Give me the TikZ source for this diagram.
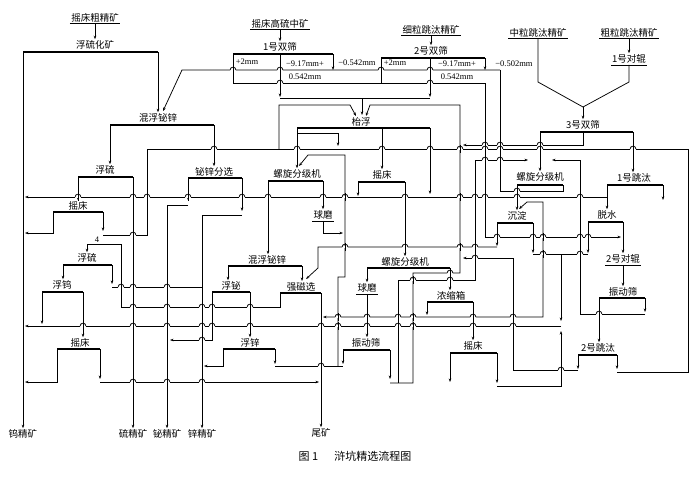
\documentclass[tikz,border=0pt]{standalone}
\usepackage{fontspec}
\setmainfont{Noto Sans CJK SC}
\newfontfamily\numfont{Liberation Serif}
\usetikzlibrary{arrows.meta}

\begin{document}
\begin{tikzpicture}[x=1pt, y=-1pt, line width=0.75pt,
    every node/.style={inner sep=1pt, font=\fontsize{9.5}{10}\selectfont},
    size/.style={inner sep=0.5pt, font=\numfont\fontsize{8.5}{9}\selectfont},
    bar/.style={line width=1.4pt},
    arr/.style={-{Stealth[length=3.5pt,width=2.6pt]}},
    arrs/.style={{Stealth[length=3.5pt,width=2.6pt]}-{Stealth[length=3.5pt,width=2.6pt]}},
    mill/.style={double, double distance=1.1pt, line width=0.55pt},
  ]
  \useasboundingbox (0,0) rectangle (700,479);

  % feeds
  \node (zcj) at (95,18) {摇床粗精矿};
  \node (gzl) at (280,24) {摇床高硫中矿};
  \node (xltt) at (431,30) {细粒跳汰精矿};
  \node (zltt) at (538,33) {中粒跳汰精矿};
  \node (cltt) at (629,33) {粗粒跳汰精矿};

  % operations
  \node (fhk) at (95,45) {浮硫化矿};
  \node (sh1) at (280,47) {1号双筛};
  \node (sh2) at (431,51) {2号双筛};
  \node (sh3) at (583,125) {3号双筛};
  \node (hf1) at (158,118) {混浮铋锌};
  \node (tf) at (361,122) {枱浮};
  \node (fl1) at (105,170) {浮硫};
  \node (fx) at (214,172) {铋锌分选};
  \node (lx1) at (297,174) {螺旋分级机};
  \node (yc2) at (382,175) {摇床};
  \node (lx3) at (540,177) {螺旋分级机};
  \node (tt1) at (634,178) {1号跳汰};
  \node (yc1) at (78,206) {摇床};
  \node (cd) at (517,216) {沉淀};
  \node (ts) at (607,215) {脱水};
  \node (fl2) at (87,258) {浮硫};
  \node (hf2) at (267,260) {混浮铋锌};
  \node (lx2) at (405,262) {螺旋分级机};
  \node (fw) at (62,285) {浮钨};
  \node (fb) at (231,286) {浮铋};
  \node (qc) at (301,287) {强磁选};
  \node (nsx) at (451,296) {浓缩箱};
  \node (zds2) at (623,292) {振动筛};
  \node (yc4) at (80,343) {摇床};
  \node (fz) at (250,343) {浮锌};
  \node (zds1) at (366,343) {振动筛};
  \node (yc3) at (473,346) {摇床};
  \node (tt2) at (598,348) {2号跳汰};

  % mills
  \node (dg1) at (629,59) {1号对辊};
  \node (qm1) at (323,215) {球磨};
  \node (dg2) at (623,259) {2号对辊};
  \node (qm2) at (367,288) {球磨};

  % products
  \node (wjk) at (23,434) {钨精矿};
  \node (ljk) at (133,434) {硫精矿};
  \node (bjk) at (167,434) {铋精矿};
  \node (xjk) at (202,434) {锌精矿};
  \node (wk) at (321,433) {尾矿};

  % screen sizes
  \node[size] (s1a) at (247,62) {+2mm};
  \node[size] (s1b) at (305,64) {−9.17mm+};
  \node[size] (s1c) at (305,77) {0.542mm};
  \node[size] (s1d) at (357,63) {−0.542mm};
  \node[size] (s2a) at (395,63) {+2mm};
  \node[size] (s2b) at (457,64) {−9.17mm+};
  \node[size] (s2c) at (457,77) {0.542mm};
  \node[size] (s2d) at (514,64) {−0.502mm};
  \node[size] (n4) at (97,240) {4};
  \node[font=\fontsize{11}{12}\selectfont] (cap) at (355,456) {图 1\hspace{16pt}浒坑精选流程图};

  % underlines and bars
  \draw (zcj.south west) -- (zcj.south east);
  \draw (gzl.south west) -- (gzl.south east);
  \draw (xltt.south west) -- (xltt.south east);
  \draw (zltt.south west) -- (zltt.south east);
  \draw (cltt.south west) -- (cltt.south east);
  \draw[mill] (dg1.south west) -- (dg1.south east);
  \draw[mill] (qm1.south west) -- (qm1.south east);
  \draw[mill] (dg2.south west) -- (dg2.south east);
  \draw[mill] (qm2.south west) -- (qm2.south east);

  \draw[bar] (23,52) coordinate (fhk-l) -- (158,52) coordinate (fhk-r);
  \draw[bar] (233,54) coordinate (sh1-l) -- (333,54) coordinate (sh1-r);
  \draw[bar] (381,58) coordinate (sh2-l) -- (485,58) coordinate (sh2-r);
  \draw[bar] (540,132) coordinate (sh3-l) -- (633,132) coordinate (sh3-r);
  \draw[bar] (110,125) coordinate (hf1-l) -- (214,125) coordinate (hf1-r);
  \draw[bar] (297,128) coordinate (tf-l) -- (430,128) coordinate (tf-r);
  \draw[bar] (78,177) coordinate (fl1-l) -- (133,177) coordinate (fl1-r);
  \draw[bar] (188,178) coordinate (fx-l) -- (242,178) coordinate (fx-r);
  \draw[bar] (268,181) coordinate (lx1-l) -- (323,181) coordinate (lx1-r);
  \draw[bar] (358,182) coordinate (yc2-l) -- (405,182) coordinate (yc2-r);
  \draw[bar] (517,185) coordinate (lx3-l) -- (563,185) coordinate (lx3-r);
  \draw[bar] (607,185) coordinate (tt1-l) -- (663,185) coordinate (tt1-r);
  \draw[bar] (53,212) coordinate (yc1-l) -- (103,212) coordinate (yc1-r);
  \draw[bar] (497,223) coordinate (cd-l) -- (533,223) coordinate (cd-r);
  \draw[bar] (588,222) coordinate (ts-l) -- (623,222) coordinate (ts-r);
  \draw[bar] (63,265) coordinate (fl2-l) -- (112,265) coordinate (fl2-r);
  \draw[bar] (228,266) coordinate (hf2-l) -- (302,266) coordinate (hf2-r);
  \draw[bar] (367,268) coordinate (lx2-l) -- (450,268) coordinate (lx2-r);
  \draw[bar] (42,292) coordinate (fw-l) -- (83,292) coordinate (fw-r);
  \draw[bar] (212,292) coordinate (fb-l) -- (250,292) coordinate (fb-r);
  \draw[bar] (280,293) coordinate (qc-l) -- (321,293) coordinate (qc-r);
  \draw[bar] (427,302) coordinate (nsx-l) -- (473,302) coordinate (nsx-r);
  \draw[bar] (599,298) coordinate (zds2-l) -- (645,298) coordinate (zds2-r);
  \draw[bar] (57,349) coordinate (yc4-l) -- (100,349) coordinate (yc4-r);
  \draw[bar] (223,349) coordinate (fz-l) -- (275,349) coordinate (fz-r);
  \draw[bar] (343,350) coordinate (zds1-l) -- (390,350) coordinate (zds1-r);
  \draw[bar] (450,353) coordinate (yc3-l) -- (497,353) coordinate (yc3-r);
  \draw[bar] (578,355) coordinate (tt2-l) -- (617,355) coordinate (tt2-r);

  % top: feeds and double screens
  \draw[arr] (zcj.south) -- (fhk.north);
  \draw[arr] (fhk-l) -- (wjk.north);
  \draw[arr] (fhk-r) -- (hf1.north -| fhk-r);
  \draw[arr] (gzl.south) -- (sh1.north);
  \draw[arr] (xltt.south) -- (sh2.north);
  \draw[arr] (sh1-l) -- (233,83) -- (485,83) -- (485,237) -- (621,237);
  \draw (sh2-l) -- (381,83);
  \draw[arr] (280,54) -- (280,97);
  \draw[arr] (430,58) -- (430,97);
  \draw (280,98) -- (430,98);
  \draw[arr] (362,98) -- (362,115);
  \draw[arr] (sh1-r) -- (333,70);
  \draw[arr] (sh2-r) -- (485,70);
  \draw[arr] (500,70) -- (182,70) -- (163,111);
  \draw (500,70) -- (500,191) -- (563,191) -- (lx3-r);
  \draw (zltt.south) -- (538,82) -- (583,107);
  \draw (dg1.south) -- (629,82) -- (583,107);
  \draw[arr] (583,107) -- (sh3.north);
  \draw[arr] (cltt.south) -- (dg1.north);
  \draw[arr] (sh3-l) -- (lx3.north);
  \draw[arr] (sh3-r) -- (tt1.north -| sh3-r);
  \draw[arr] (583,132) -- (583,145) -- (463,145);

  % table flotation
  \draw[arr] (tf-l) -- (lx1.north);
  \draw[arr] (297,133) -- (338,133) -- (338,146);
  \draw[arr] (382,128) -- (yc2.north);
  \draw[arr] (tf-r) -- (430,194);
  \draw (103,235) -- (147,235) -- (147,149) -- (688,149) -- (688,372) -- (617,372);
  \draw[arr] (279,149) -- (279,105) -- (350,105) -- (356,116);
  \draw[arr] (390,383) -- (413,383) -- (413,273) -- (460,273) -- (460,105) -- (370,105) -- (366,116);

  % left part
  \draw[arr] (hf1-l) -- (fl1.north -| hf1-l);
  \draw[arr] (hf1-r) -- (fx.north -| hf1-r);
  \draw[arr] (fl1-l) -- (yc1.north -| fl1-l);
  \draw[arr] (fl1-r) -- (ljk.north);
  \draw[arr] (yc1-l) -- (53,233) -- (25,233);
  \draw[arr] (yc1-r) -- (103,231);
  \draw[arr] (fx-l) -- (188,200);
  \draw[arr] (188,205) -- (167,205) -- (bjk.north);
  \draw[arr] (fx-r) -- (242,211);
  \draw[arr] (242,215) -- (202,215) -- (xjk.north);
  \draw[arr] (607,197) -- (25,197);

  % classifier, mill
  \draw[arr] (lx1-l) -- (hf2.north -| lx1-l);
  \draw[arr] (lx1-r) -- (qm1.north);
  \draw[arr] (qm1.south) -- (323,233) -- (343,233);
  \draw[arr] (yc2-l) -- (358,196);
  \draw[arr] (yc2-r) -- (lx2.north);
  \draw (275,366) -- (343,366);
  \draw[arr] (338,366) -- (338,277) -- (345,277) -- (345,155) -- (308,155) -- (299,166);

  % lower middle
  \draw[arr] (hf2-l) -- (fb.north -| hf2-l);
  \draw[arr] (hf2-r) -- (302,281);
  \draw[arr] (497,247) -- (318,247) -- (318,268) -- (306,279);
  \draw[arr] (qc-l) -- (280,307) -- (121,307) -- (121,244) -- (87,244) -- (fl2.north);
  \draw[arr] (qc-r) -- (wk.north);
  \draw[arr] (fl2-l) -- (fw.north -| fl2-l);
  \draw[arr] (fl2-r) -- (112,284);
  \draw (112,287) -- (202,287);
  \draw[arr] (fw-l) -- (42,324);
  \draw[arr] (fw-r) -- (yc4.north -| fw-r);
  \draw[arr] (yc4-l) -- (57,382) -- (25,382);
  \draw[arr] (yc4-r) -- (100,379);
  \draw[arr] (100,382) -- (319,382);
  \draw[arr] (fb-l) -- (212,340) -- (170,340);
  \draw[arr] (fb-r) -- (fz.north -| fb-r);
  \draw[arr] (fz-l) -- (223,366) -- (204,366);
  \draw[arr] (fz-r) -- (275,364);
  \draw[arr] (zds1-l) -- (343,364);
  \draw[arr] (zds1-r) -- (390,379);
  \draw[arr] (qm2.south) -- (zds1.north -| qm2.south);
  \draw[arr] (lx2-l) -- (qm2.north);
  \draw[arr] (lx2-r) -- (nsx.north -| lx2-r);
  \draw[arr] (398,383) -- (398,280) -- (475,280) -- (475,160) -- (528,160);

  % right part
  \draw[arr] (nsx-l) -- (427,315);
  \draw[arr] (nsx-r) -- (yc3.north);
  \draw[arr] (yc3-l) -- (450,382);
  \draw[arr] (yc3-r) -- (497,383);
  \draw[arr] (497,386) -- (561,386) -- (561,331);
  \draw (533,254) -- (588,254);
  \draw[arr] (561,254) -- (561,321);
  \draw[arr] (561,326) -- (25,326);
  \draw[arrs] (519,209) -- (527,202) -- (543,202) -- (543,317) -- (323,317);
  \draw[arr] (cd-l) -- (497,246);
  \draw[arr] (cd-r) -- (533,253);
  \draw[arr] (lx3-l) -- (cd.north -| lx3-l);
  \draw[arr] (tt1-l) -- (ts.north -| tt1-l);
  \draw[arr] (tt1-r) -- (663,200);
  \draw[arr] (ts-l) -- (588,253);
  \draw[arr] (ts-r) -- (dg2.north -| ts-r);
  \draw[arr] (dg2.south) -- (zds2.north);
  \draw[arr] (zds2-l) -- (tt2.north -| zds2-l);
  \draw[arr] (zds2-r) -- (645,312);
  \draw[arr] (645,314) -- (580,314) -- (580,160) -- (552,160);
  \draw[arr] (tt2-l) -- (578,369);
  \draw[arr] (tt2-r) -- (617,369);
  \draw[arr] (578,370) -- (513,370) -- (513,258) -- (463,258);

  % line jumps
  \foreach \hx/\hy in {233/70, 280/70, 381/70, 430/70, 280/83, 430/83,
      485/145, 500/145, 540/145,
      214/149, 297/149, 382/149, 430/149, 460/149, 485/149, 500/149, 540/149, 633/149,
      485/160, 500/160, 517/191,
      78/197, 133/197, 147/197, 188/197, 242/197, 268/197, 323/197, 345/197,
      405/197, 460/197, 475/197, 485/197, 517/197, 580/197,
      133/235, 497/237, 533/237, 543/237, 580/237, 588/237,
      345/247, 405/247, 460/247, 475/247, 543/254, 580/254, 475/258,
      450/273, 413/280, 450/280, 121/287, 133/287, 167/287,
      133/307, 167/307, 202/307, 212/307, 250/307, 599/314,
      338/317, 367/317, 398/317, 413/317, 473/317, 513/317,
      83/326, 133/326, 167/326, 202/326, 212/326, 250/326, 321/326,
      338/326, 367/326, 398/326, 413/326, 473/326, 513/326,
      202/340, 321/366, 561/370, 133/382, 167/382, 202/382} {
    \fill[white] (\hx-2.9,\hy-1.1) rectangle (\hx+2.9,\hy+1.1);
    \draw (\hx,\hy-3.9) -- (\hx,\hy+3.9);
    \draw (\hx-2.9,\hy) .. controls (\hx-2.9,\hy-3.8) and (\hx+2.9,\hy-3.8) .. (\hx+2.9,\hy);
  }
\end{tikzpicture}
\end{document}
